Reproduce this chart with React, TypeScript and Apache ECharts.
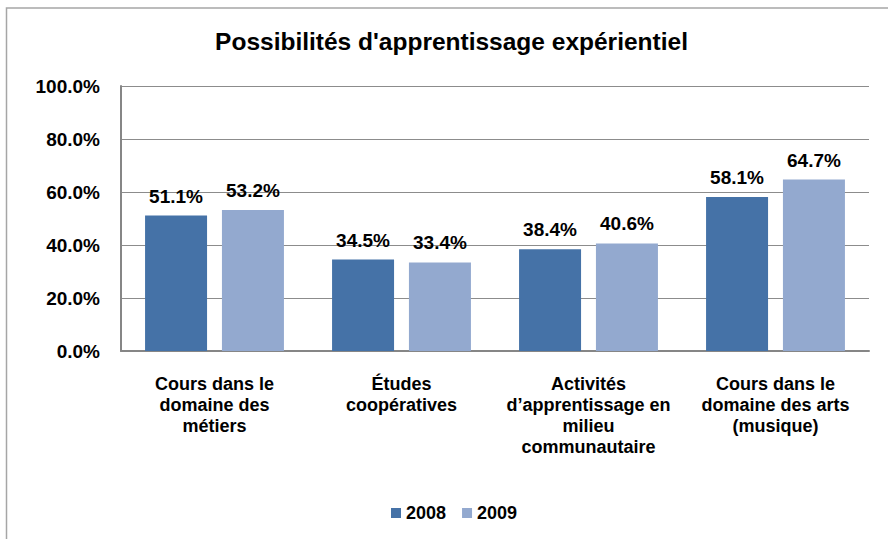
import React, { useEffect, useRef } from "react";
import * as echarts from "echarts";

const titleText = "Possibilités d'apprentissage expérientiel";
const categories = [
  "Cours dans le\ndomaine des\nmétiers",
  "Études\ncoopératives",
  "Activités\nd’apprentissage en\nmilieu\ncommunautaire",
  "Cours dans le\ndomaine des arts\n(musique)",
];
const seriesNames = ["2008", "2009"];
const values2008 = [51.1, 34.5, 38.4, 58.1];
const values2009 = [53.2, 33.4, 40.6, 64.7];
const colors = ["#4572A7", "#93A9CF"];

const FONT = "'Liberation Sans', Arial, sans-serif";

export default function App() {
  const ref = useRef<HTMLDivElement>(null);
  useEffect(() => {
    document.body.style.margin = "0";
    if (!ref.current) return;
    const chart = echarts.init(ref.current, null, { renderer: "svg" });
    const labelCfg = {
      show: true,
      position: "top" as const,
      distance: 10,
      formatter: (p: any) => Number(p.value).toFixed(1) + "%",
      color: "#000",
      fontWeight: "bold" as const,
      fontSize: 19,
      fontFamily: FONT,
    };
    chart.setOption({
      animation: false,
      backgroundColor: "#fff",
      textStyle: { fontFamily: FONT },
      graphic: [
        {
          type: "rect",
          shape: { x: 6.5, y: 8, width: 1000, height: 1000 },
          style: { fill: "none", stroke: "#a6a6a6", lineWidth: 1.5 },
          silent: true,
        },
        {
          type: "text",
          x: 451.5,
          y: 41,
          style: {
            text: titleText,
            textAlign: "center",
            textVerticalAlign: "middle",
            fontSize: 24.5,
            fontWeight: "bold",
            fontFamily: FONT,
            fill: "#000",
          },
        },
      ],
      legend: {
        left: 386,
        top: 499,
        itemWidth: 10,
        itemHeight: 10,
        itemGap: 16,
        icon: "rect",
        data: seriesNames,
        textStyle: {
          color: "#000",
          fontWeight: "bold",
          fontSize: 18,
          fontFamily: FONT,
          padding: [0, 0, 0, 0],
        },
      },
      grid: { left: 121, top: 86, width: 748, height: 265, containLabel: false },
      xAxis: {
        type: "category",
        data: categories,
        axisLine: { show: true, lineStyle: { color: "#868686", width: 2 } },
        axisTick: { show: false },
        axisLabel: {
          interval: 0,
          margin: 22,
          color: "#000",
          fontWeight: "bold",
          fontSize: 18,
          lineHeight: 21,
          fontFamily: FONT,
        },
      },
      yAxis: {
        type: "value",
        min: 0,
        max: 100,
        interval: 20,
        axisLine: { show: true, lineStyle: { color: "#868686", width: 2 } },
        axisTick: { show: false },
        splitLine: { show: true, lineStyle: { color: "#8c8c8c", width: 1 } },
        axisLabel: {
          margin: 21,
          formatter: (v: number) => v.toFixed(1) + "%",
          color: "#000",
          fontWeight: "bold",
          fontSize: 19,
          fontFamily: FONT,
        },
      },
      series: [
        {
          name: seriesNames[0],
          type: "bar",
          data: values2008,
          barWidth: 62,
          barGap: "24%",
          itemStyle: { color: colors[0] },
          label: labelCfg,
        },
        {
          name: seriesNames[1],
          type: "bar",
          data: values2009,
          barWidth: 62,
          barGap: "24%",
          itemStyle: { color: colors[1] },
          label: labelCfg,
        },
      ],
    });
    return () => chart.dispose();
  }, []);
  return <div ref={ref} style={{ width: 888, height: 539 }} />;
}
